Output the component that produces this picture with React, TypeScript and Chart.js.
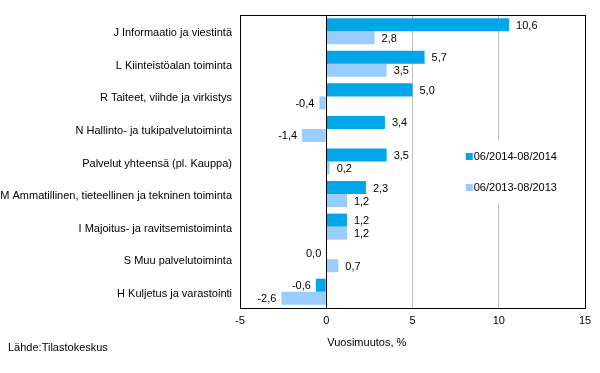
import React, { useEffect, useRef } from 'react';
import { Chart, registerables } from 'chart.js';

Chart.register(...registerables);

const FONT = "Arial, 'Liberation Sans', Helvetica, sans-serif";

const categories = [
  'J Informaatio ja viestintä',
  'L Kiinteistöalan toiminta',
  'R Taiteet, viihde ja virkistys',
  'N Hallinto- ja tukipalvelutoiminta',
  'Palvelut yhteensä (pl. Kauppa)',
  'M Ammatillinen, tieteellinen ja tekninen toiminta',
  'I Majoitus- ja ravitsemistoiminta',
  'S Muu palvelutoiminta',
  'H Kuljetus ja varastointi',
];
const series2014 = [10.6, 5.7, 5.0, 3.4, 3.5, 2.3, 1.2, 0.0, -0.6];
const series2013 = [2.8, 3.5, -0.4, -1.4, 0.2, 1.2, 1.2, 0.7, -2.6];
const seriesNames = ['06/2014-08/2014', '06/2013-08/2013'];
const seriesColors = ['#00a6e8', '#99ccff'];
const xTicks = [-5, 0, 5, 10, 15];
const axisTitle = 'Vuosimuutos, %';
const sourceText = 'Lähde:Tilastokeskus';

const decorPlugin = {
  id: 'decor',
  afterDatasetsDraw(chart: any) {
    const { ctx, chartArea: a } = chart;
    const x = chart.scales.x;
    ctx.save();
    const x0 = Math.round(x.getPixelForValue(0)) + 0.5;
    ctx.strokeStyle = '#000';
    ctx.lineWidth = 1;
    ctx.beginPath();
    ctx.moveTo(x0, a.top);
    ctx.lineTo(x0, a.bottom);
    ctx.stroke();
    ctx.strokeRect(
      Math.round(a.left) + 0.5,
      Math.round(a.top) + 0.5,
      Math.round(a.right - a.left),
      Math.round(a.bottom - a.top)
    );

    ctx.font = `11px ${FONT}`;
    ctx.fillStyle = '#000';
    ctx.textBaseline = 'middle';
    chart.data.datasets.forEach((ds: any, di: number) => {
      const meta = chart.getDatasetMeta(di);
      meta.data.forEach((bar: any, i: number) => {
        const v = ds.data[i] as number;
        const txt = v.toFixed(1).replace('.', ',');
        const p = bar.getProps(['x', 'y'], true);
        if (v > 0) {
          ctx.textAlign = 'left';
          ctx.fillText(txt, p.x + 7, p.y + 1);
        } else {
          ctx.textAlign = 'right';
          ctx.fillText(txt, Math.min(p.x, x0) - 5, p.y + 1);
        }
      });
    });

    // legend inside plot
    const lx = x.getPixelForValue(10) - 33;
    const ly1 = a.top + 141;
    const ly2 = a.top + 172;
    ctx.fillStyle = '#fff';
    ctx.fillRect(lx - 4, a.top + 125, 98, 63);
    [ly1, ly2].forEach((ly, k) => {
      ctx.fillStyle = seriesColors[k];
      ctx.fillRect(lx, ly - 3, 7, 7);
      ctx.fillStyle = '#000';
      ctx.textAlign = 'left';
      ctx.fillText(seriesNames[k], lx + 8, ly + 1);
    });

    ctx.textAlign = 'left';
    ctx.fillText(axisTitle, x.getPixelForValue(0) + 1, a.bottom + 35);
    ctx.fillText(sourceText, 8, chart.height - 25);
    ctx.restore();
  },
};

export default function App() {
  const ref = useRef<HTMLCanvasElement | null>(null);
  useEffect(() => {
    if (!ref.current) return;
    const chart = new Chart(ref.current, {
      type: 'bar',
      data: {
        labels: categories,
        datasets: [
          {
            label: seriesNames[0],
            data: series2014,
            backgroundColor: seriesColors[0],
            categoryPercentage: 0.8,
            barPercentage: 1.0,
          },
          {
            label: seriesNames[1],
            data: series2013,
            backgroundColor: seriesColors[1],
            categoryPercentage: 0.8,
            barPercentage: 1.0,
          },
        ],
      },
      options: {
        indexAxis: 'y',
        responsive: false,
        animation: false,
        layout: { padding: { top: 15, right: 15, left: 0, bottom: 0 } },
        plugins: {
          legend: { display: false },
          tooltip: { enabled: false },
        },
        scales: {
          x: {
            min: -5,
            max: 15,
            afterFit: (s: any) => {
              s.height = 65;
            },
            afterBuildTicks: (s: any) => {
              s.ticks = xTicks.map((v) => ({ value: v }));
            },
            ticks: {
              padding: 6,
              color: '#000',
              font: { family: FONT, size: 11 },
              callback: (v: any) => String(v),
            },
            grid: {
              drawTicks: false,
              color: (c: any) =>
                c.tick && (c.tick.value === 5 || c.tick.value === 10) ? '#c0c0c0' : 'rgba(0,0,0,0)',
            },
            border: { display: false },
          },
          y: {
            afterFit: (s: any) => {
              s.width = 240;
            },
            ticks: {
              padding: 8,
              labelOffset: 2,
              color: '#000',
              font: { family: FONT, size: 11 },
            },
            grid: { display: false, drawTicks: false },
            border: { display: false },
          },
        },
      },
      plugins: [decorPlugin],
    });
    return () => chart.destroy();
  }, []);
  return (
    <div style={{ position: 'absolute', left: 0, top: 0, width: 600, height: 373, background: '#fff' }}>
      <canvas ref={ref} width={600} height={373} style={{ display: 'block' }} />
    </div>
  );
}
